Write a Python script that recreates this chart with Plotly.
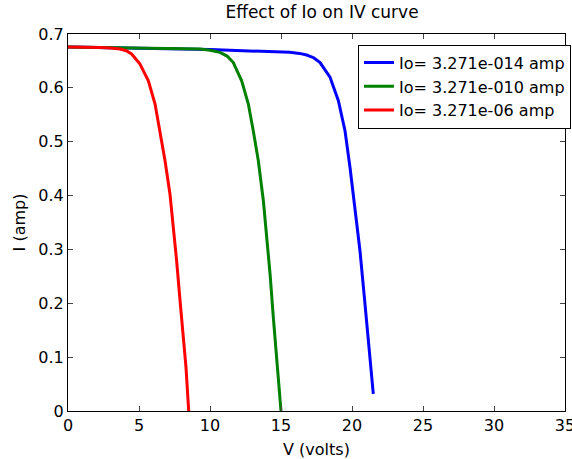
import plotly.graph_objects as go

# Data (V in volts, I in amp)
v_red = [0, 1, 2.25, 3.0, 3.66, 4.1, 4.48, 5.07, 5.66, 6.13, 6.48, 6.83, 7.18, 7.42, 7.65, 7.89, 8.12, 8.31, 8.5]
i_red = [0.676, 0.676, 0.675, 0.674, 0.672, 0.669, 0.663, 0.644, 0.613, 0.570, 0.520, 0.465, 0.403, 0.341, 0.279, 0.205, 0.143, 0.081, 0.0]

v_green = [0, 3, 6, 9.3, 10.0, 10.7, 11.2, 11.64, 12.23, 12.7, 13.05, 13.4, 13.76, 13.99, 14.23, 14.46, 14.69, 15.0]
i_green = [0.676, 0.675, 0.673, 0.672, 0.670, 0.666, 0.659, 0.647, 0.613, 0.570, 0.520, 0.465, 0.390, 0.329, 0.254, 0.174, 0.106, 0.0]

v_blue = [0, 5, 10, 15.63, 16.3, 16.81, 17.3, 17.75, 18.45, 19.04, 19.51, 19.86, 20.21, 20.56, 20.85, 21.15, 21.5]
i_blue = [0.676, 0.674, 0.671, 0.666, 0.664, 0.661, 0.656, 0.647, 0.620, 0.576, 0.520, 0.452, 0.378, 0.298, 0.217, 0.131, 0.032]

names = ["Io= 3.271e-014 amp", "Io= 3.271e-010 amp", "Io= 3.271e-06 amp"]
x_ticks = [0, 5, 10, 15, 20, 25, 30, 35]
y_ticks = [0, 0.1, 0.2, 0.3, 0.4, 0.5, 0.6, 0.7]
y_tick_text = ["0", "0.1", "0.2", "0.3", "0.4", "0.5", "0.6", "0.7"]

fig = go.Figure()
for v, i, name, col in [(v_blue, i_blue, names[0], "#0000FF"),
                        (v_green, i_green, names[1], "#008000"),
                        (v_red, i_red, names[2], "#FF0000")]:
    fig.add_trace(go.Scatter(x=v, y=i, mode="lines", name=name,
                             line=dict(color=col, width=3)))

font = "DejaVu Sans, Liberation Sans, Arial, sans-serif"
fig.update_layout(
    width=572, height=459,
    margin=dict(l=68, r=7, t=34, b=48, autoexpand=False),
    paper_bgcolor="white", plot_bgcolor="white",
    font=dict(family=font, size=16, color="black"),
    title=dict(text="Effect of Io on IV curve", x=0.563, xanchor="center",
               y=0.974, yanchor="middle", font=dict(size=17)),
    legend=dict(x=1.012, xanchor="right", y=0.972, yanchor="top",
                bordercolor="black", borderwidth=1, bgcolor="white",
                font=dict(size=16), tracegroupgap=0),
    showlegend=True,
)
fig.update_xaxes(range=[0, 35], tickvals=x_ticks, ticks="inside", ticklen=5,
                 showline=True, linecolor="black", linewidth=1, mirror="ticks",
                 showgrid=False, zeroline=False, tickfont=dict(size=16),
                 ticklabeloverflow="allow",
                 title=dict(text="V (volts)", standoff=9, font=dict(size=16)))
fig.update_yaxes(range=[0, 0.7], tickvals=y_ticks, ticktext=y_tick_text,
                 ticks="inside", ticklen=5,
                 showline=True, linecolor="black", linewidth=1, mirror="ticks",
                 showgrid=False, zeroline=False, tickfont=dict(size=16),
                 title=dict(text="I (amp)", standoff=8, font=dict(size=16)))

fig.write_html("out.html", config={"displayModeBar": False},
               post_script="document.body.style.margin='0px';document.body.style.padding='0px';")
